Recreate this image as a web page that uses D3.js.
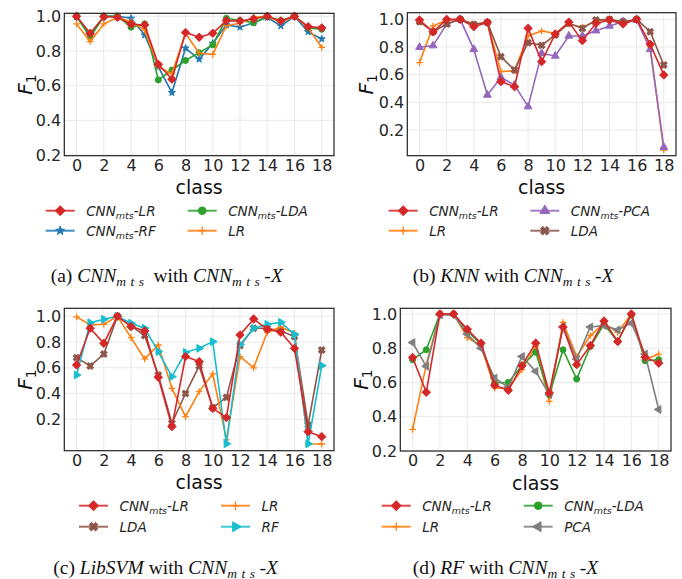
<!DOCTYPE html>
<html>
<head>
<meta charset="utf-8">
<script src="https://cdn.jsdelivr.net/npm/d3@7"></script>
<style>
  body { margin: 0; background: #fff; }
  svg { display: block; }
</style>
</head>
<body>
<svg id="chart" width="682" height="579"></svg>
<script>
const classes = [0, 1, 2, 3, 4, 5, 6, 7, 8, 9, 10, 11, 12, 13, 14, 15, 16, 17, 18];
const xTicks = [0, 2, 4, 6, 8, 10, 12, 14, 16, 18];
const yTicks = [0.2, 0.4, 0.6, 0.8, 1.0];

// (a) CNN_mts with CNN_mts-X
const aCnnLR  = [1.0, 0.902, 0.997, 0.994, 0.954, 0.95, 0.723, 0.637, 0.906, 0.879, 0.902, 0.975, 0.973, 0.985, 1.0, 0.973, 1.0, 0.94, 0.933];
const aCnnRF  = [0.998, 0.887, 1.0, 1.0, 0.988, 0.892, 0.71, 0.56, 0.816, 0.752, 0.844, 0.95, 0.937, 0.963, 0.994, 0.944, 1.0, 0.91, 0.869];
const aCnnLDA = [0.998, 0.879, 1.0, 1.0, 0.937, 0.956, 0.633, 0.69, 0.745, 0.79, 0.835, 0.988, 0.975, 0.963, 0.998, 0.975, 1.0, 0.933, 0.925];
const aLR     = [0.956, 0.854, 0.956, 0.992, 0.97, 0.92, 0.71, 0.668, 0.902, 0.787, 0.78, 0.946, 0.96, 0.994, 1.0, 0.965, 1.0, 0.935, 0.82];

// (b) KNN with CNN_mts-X
const bCnnLR  = [0.995, 0.91, 1.0, 1.0, 0.947, 0.978, 0.55, 0.513, 0.935, 0.694, 0.894, 0.98, 0.846, 0.971, 0.995, 0.966, 1.0, 0.82, 0.598];
const bLR     = [0.687, 0.952, 0.995, 0.998, 0.966, 0.976, 0.622, 0.629, 0.88, 0.916, 0.899, 0.966, 0.942, 0.99, 1.0, 0.976, 1.0, 0.802, 0.055];
const bCnnPCA = [0.798, 0.81, 0.966, 1.0, 0.783, 0.453, 0.58, 0.525, 0.369, 0.754, 0.735, 0.88, 0.88, 0.918, 0.952, 0.983, 0.995, 0.783, 0.075];
const bLDA    = [0.983, 0.91, 0.966, 1.0, 0.964, 0.978, 0.73, 0.634, 0.831, 0.812, 0.887, 0.971, 0.935, 0.995, 1.0, 0.983, 1.0, 0.91, 0.67];

// (c) LibSVM with CNN_mts-X
const cCnnLR  = [0.622, 0.907, 0.79, 1.0, 0.92, 0.886, 0.526, 0.143, 0.687, 0.648, 0.285, 0.213, 0.855, 0.979, 0.899, 0.876, 0.751, 0.104, 0.065];
const cLDA    = [0.679, 0.614, 0.707, 1.0, 0.925, 0.85, 0.544, 0.169, 0.4, 0.614, 0.29, 0.37, 0.772, 0.907, 0.907, 0.886, 0.842, 0.156, 0.738];
const cLR     = [0.995, 0.933, 0.938, 1.0, 0.834, 0.669, 0.777, 0.44, 0.22, 0.415, 0.552, 0.04, 0.687, 0.6, 0.876, 0.917, 0.868, 0.01, 0.008];
const cRF     = [0.544, 0.95, 0.977, 1.0, 0.946, 0.907, 0.726, 0.531, 0.72, 0.751, 0.803, 0.01, 0.78, 0.907, 0.938, 0.953, 0.86, 0.01, 0.617];

// (d) RF with CNN_mts-X
const dCnnLR  = [0.746, 0.543, 1.0, 1.0, 0.911, 0.83, 0.584, 0.554, 0.698, 0.83, 0.539, 0.923, 0.704, 0.816, 0.959, 0.839, 1.0, 0.748, 0.713];
const dLR     = [0.326, 0.704, 1.0, 1.0, 0.862, 0.816, 0.568, 0.564, 0.675, 0.81, 0.49, 0.95, 0.752, 0.874, 0.946, 0.892, 1.0, 0.733, 0.766];
const dCnnLDA = [0.733, 0.791, 1.0, 1.0, 0.901, 0.824, 0.597, 0.601, 0.698, 0.777, 0.529, 0.791, 0.62, 0.81, 0.94, 0.839, 0.994, 0.727, 0.733];
const dPCA    = [0.833, 0.694, 0.994, 0.994, 0.882, 0.8, 0.626, 0.572, 0.752, 0.665, 0.529, 0.926, 0.737, 0.924, 0.932, 0.907, 0.946, 0.766, 0.442];

const col = {red: "#d62728", blue: "#1f77b4", green: "#2ca02c", orange: "#ff7f0e",
             purple: "#9467bd", brown: "#8c564b", gray: "#7f7f7f", cyan: "#17becf"};

const svg = d3.select("#chart");

// marker shapes, centred on 0,0
function markerPath(type, s) {
  if (type === "diamond") return `M0,${-s}L${s},0L0,${s}L${-s},0Z`;
  if (type === "plus") return `M${-s},0H${s}M0,${-s}V${s}`;
  if (type === "circle") return d3.symbol(d3.symbolCircle, s * s * 2.6)();
  if (type === "star") return d3.symbol(d3.symbolStar, s * s * 1.4)();
  if (type === "x") return d3.symbol(d3.symbolCross, s * s * 2.4)();
  return d3.symbol(d3.symbolTriangle, s * s * 2.4)();
}
const markerRot = {x: 45, tri_right: 90, tri_left: -90};

function addMarker(g, type, color, s) {
  const p = g.append("path").attr("d", markerPath(type, s));
  if (type === "plus") {
    p.attr("fill", "none").attr("stroke", color).attr("stroke-width", 1.3);
  } else {
    p.attr("fill", color).attr("stroke", color).attr("stroke-width", 1);
  }
  if (markerRot[type]) p.attr("transform", `rotate(${markerRot[type]})`);
  return p;
}

// "CNN" + subscript "mts" + suffix, in legend style
function cnnLabel(t, suffix) {
  t.append("tspan").text("CNN");
  t.append("tspan").attr("font-size", 9.5).attr("dy", 3).text("mts");
  t.append("tspan").attr("dy", -3).text(suffix);
}

const panels = [
  {frame: [64.3, 13.3, 334, 155.7], yDomain: [0.196, 1.017], ylabX: 32,
   series: [
     {label: ["cnn", "-LR"], values: aCnnLR, color: col.red, marker: "diamond"},
     {label: ["cnn", "-RF"], values: aCnnRF, color: col.blue, marker: "star"},
     {label: ["cnn", "-LDA"], values: aCnnLDA, color: col.green, marker: "circle"},
     {label: ["", "LR"], values: aLR, color: col.orange, marker: "plus"}],
   legend: {rows: [210.7, 230.7], cols: [45.7, 187.7]},
   caption: {x: 50.7, y: 282, tag: "(a) ", name: "CNN", nameSub: true}},
  {frame: [407.3, 12.7, 676, 155.7], yDomain: [0.014, 1.048], ylabX: 373,
   series: [
     {label: ["cnn", "-LR"], values: bCnnLR, color: col.red, marker: "diamond"},
     {label: ["", "LR"], values: bLR, color: col.orange, marker: "plus"},
     {label: ["cnn", "-PCA"], values: bCnnPCA, color: col.purple, marker: "tri_up"},
     {label: ["", "LDA"], values: bLDA, color: col.brown, marker: "x"}],
   legend: {rows: [210.7, 230.7], cols: [388.7, 530.3]},
   caption: {x: 412.7, y: 282, tag: "(b) ", name: "KNN"}},
  {frame: [64.3, 308.3, 334, 450.7], yDomain: [-0.044, 1.062], ylabX: 32,
   series: [
     {label: ["cnn", "-LR"], values: cCnnLR, color: col.red, marker: "diamond"},
     {label: ["", "LDA"], values: cLDA, color: col.brown, marker: "x"},
     {label: ["", "LR"], values: cLR, color: col.orange, marker: "plus"},
     {label: ["", "RF"], values: cRF, color: col.cyan, marker: "tri_right"}],
   legend: {rows: [505.7, 526.7], cols: [79, 221]},
   caption: {x: 53.3, y: 574, tag: "(c) ", name: "LibSVM"}},
  {frame: [400.3, 308.3, 671, 451], yDomain: [0.2, 1.033], ylabX: 368,
   series: [
     {label: ["cnn", "-LR"], values: dCnnLR, color: col.red, marker: "diamond"},
     {label: ["", "LR"], values: dLR, color: col.orange, marker: "plus"},
     {label: ["cnn", "-LDA"], values: dCnnLDA, color: col.green, marker: "circle"},
     {label: ["", "PCA"], values: dPCA, color: col.gray, marker: "tri_left"}],
   legend: {rows: [505.7, 526.7], cols: [381.7, 523.7]},
   caption: {x: 412.7, y: 574, tag: "(d) ", name: "RF"}}
];

panels.forEach(function(p) {
  const [x0, y0, x1, y1] = p.frame;
  const x = d3.scaleLinear().domain([-0.9, 18.9]).range([x0, x1]);
  const y = d3.scaleLinear().domain(p.yDomain).range([y1, y0]);
  const g = svg.append("g");

  // grid
  g.append("g").selectAll("line.vg").data(xTicks).enter().append("line")
    .attr("x1", d => x(d)).attr("x2", d => x(d)).attr("y1", y0).attr("y2", y1)
    .attr("stroke", "#e6e6e6").attr("stroke-width", 0.9);
  g.append("g").selectAll("line.hg").data(yTicks).enter().append("line")
    .attr("x1", x0).attr("x2", x1).attr("y1", d => y(d)).attr("y2", d => y(d))
    .attr("stroke", "#e6e6e6").attr("stroke-width", 0.9);

  // axes (labels only, seaborn whitegrid look)
  const xAxis = g.append("g").attr("transform", `translate(0,${y1})`)
    .call(d3.axisBottom(x).tickValues(xTicks).tickSize(0).tickPadding(4));
  const yAxis = g.append("g").attr("transform", `translate(${x0},0)`)
    .call(d3.axisLeft(y).tickValues(yTicks).tickFormat(d3.format(".1f")).tickSize(0).tickPadding(3));
  [xAxis, yAxis].forEach(a => {
    a.select(".domain").remove();
    a.selectAll("text").attr("font-family", "DejaVu Sans").attr("font-size", 16).attr("fill", "#262626");
  });

  // lines, red on top
  const line = d3.line().x((d, i) => x(classes[i])).y(d => y(d));
  const order = p.series.slice(1).concat([p.series[0]]);
  order.forEach(s => {
    g.append("path").datum(s.values).attr("d", line)
      .attr("fill", "none").attr("stroke", s.color).attr("stroke-width", 1.6);
    s.values.forEach((v, i) => {
      const m = g.append("g").attr("transform", `translate(${x(classes[i])},${y(v)})`);
      addMarker(m, s.marker, s.color, s.marker === "diamond" ? 4.2 : 3.3);
    });
  });

  // frame
  g.append("rect").attr("x", x0).attr("y", y0).attr("width", x1 - x0).attr("height", y1 - y0)
    .attr("fill", "none").attr("stroke", "#222").attr("stroke-width", 1.2);

  // axis titles
  g.append("text").attr("x", (x0 + x1) / 2).attr("y", y1 + 38.5)
    .attr("text-anchor", "middle").attr("font-family", "DejaVu Sans").attr("font-size", 19)
    .attr("fill", "#111").text("class");
  const yl = g.append("text")
    .attr("transform", `translate(${p.ylabX},${(y0 + y1) / 2}) rotate(-90)`)
    .attr("text-anchor", "middle").attr("font-family", "DejaVu Sans").attr("font-size", 20).attr("fill", "#111");
  yl.append("tspan").attr("font-style", "italic").text("F");
  yl.append("tspan").attr("font-size", 14).attr("dy", 4).text("1");

  // legend, column-major
  p.series.forEach((s, k) => {
    const lx = p.legend.cols[Math.floor(k / 2)];
    const ly = p.legend.rows[k % 2];
    const lg = g.append("g");
    lg.append("line").attr("x1", lx).attr("x2", lx + 29).attr("y1", ly).attr("y2", ly)
      .attr("stroke", s.color).attr("stroke-width", 2).attr("stroke-opacity", 0.85);
    const mk = lg.append("g").attr("transform", `translate(${lx + 14.5},${ly})`);
    addMarker(mk, s.marker, s.color, s.marker === "diamond" ? 5 : 4.2);
    const t = lg.append("text").attr("x", lx + 40.5).attr("y", ly + 5)
      .attr("font-family", "DejaVu Sans").attr("font-style", "italic").attr("font-size", 13.5)
      .attr("fill", "#262626");
    if (s.label[0] === "cnn") cnnLabel(t, s.label[1]);
    else t.text(s.label[1]);
  });

  // caption
  const c = p.caption;
  const ct = g.append("text").attr("x", c.x).attr("y", c.y)
    .attr("font-family", "Liberation Serif").attr("font-size", 19.5).attr("fill", "#111");
  ct.append("tspan").text(c.tag);
  ct.append("tspan").attr("font-style", "italic").text(c.name);
  if (c.nameSub) {
    ct.append("tspan").attr("font-style", "italic").attr("font-size", 13.5).attr("dy", 3.5)
      .attr("letter-spacing", 4.5).text("mts");
    ct.append("tspan").attr("dy", -3.5).text(" with ");
  } else {
    ct.append("tspan").text(" with ");
  }
  ct.append("tspan").attr("font-style", "italic").text("CNN");
  ct.append("tspan").attr("font-style", "italic").attr("font-size", 13.5).attr("dy", 3.5)
    .attr("letter-spacing", 4.5).text("mts");
  ct.append("tspan").attr("font-style", "italic").attr("dy", -3.5).text("-X");
});
</script>
</body>
</html>
